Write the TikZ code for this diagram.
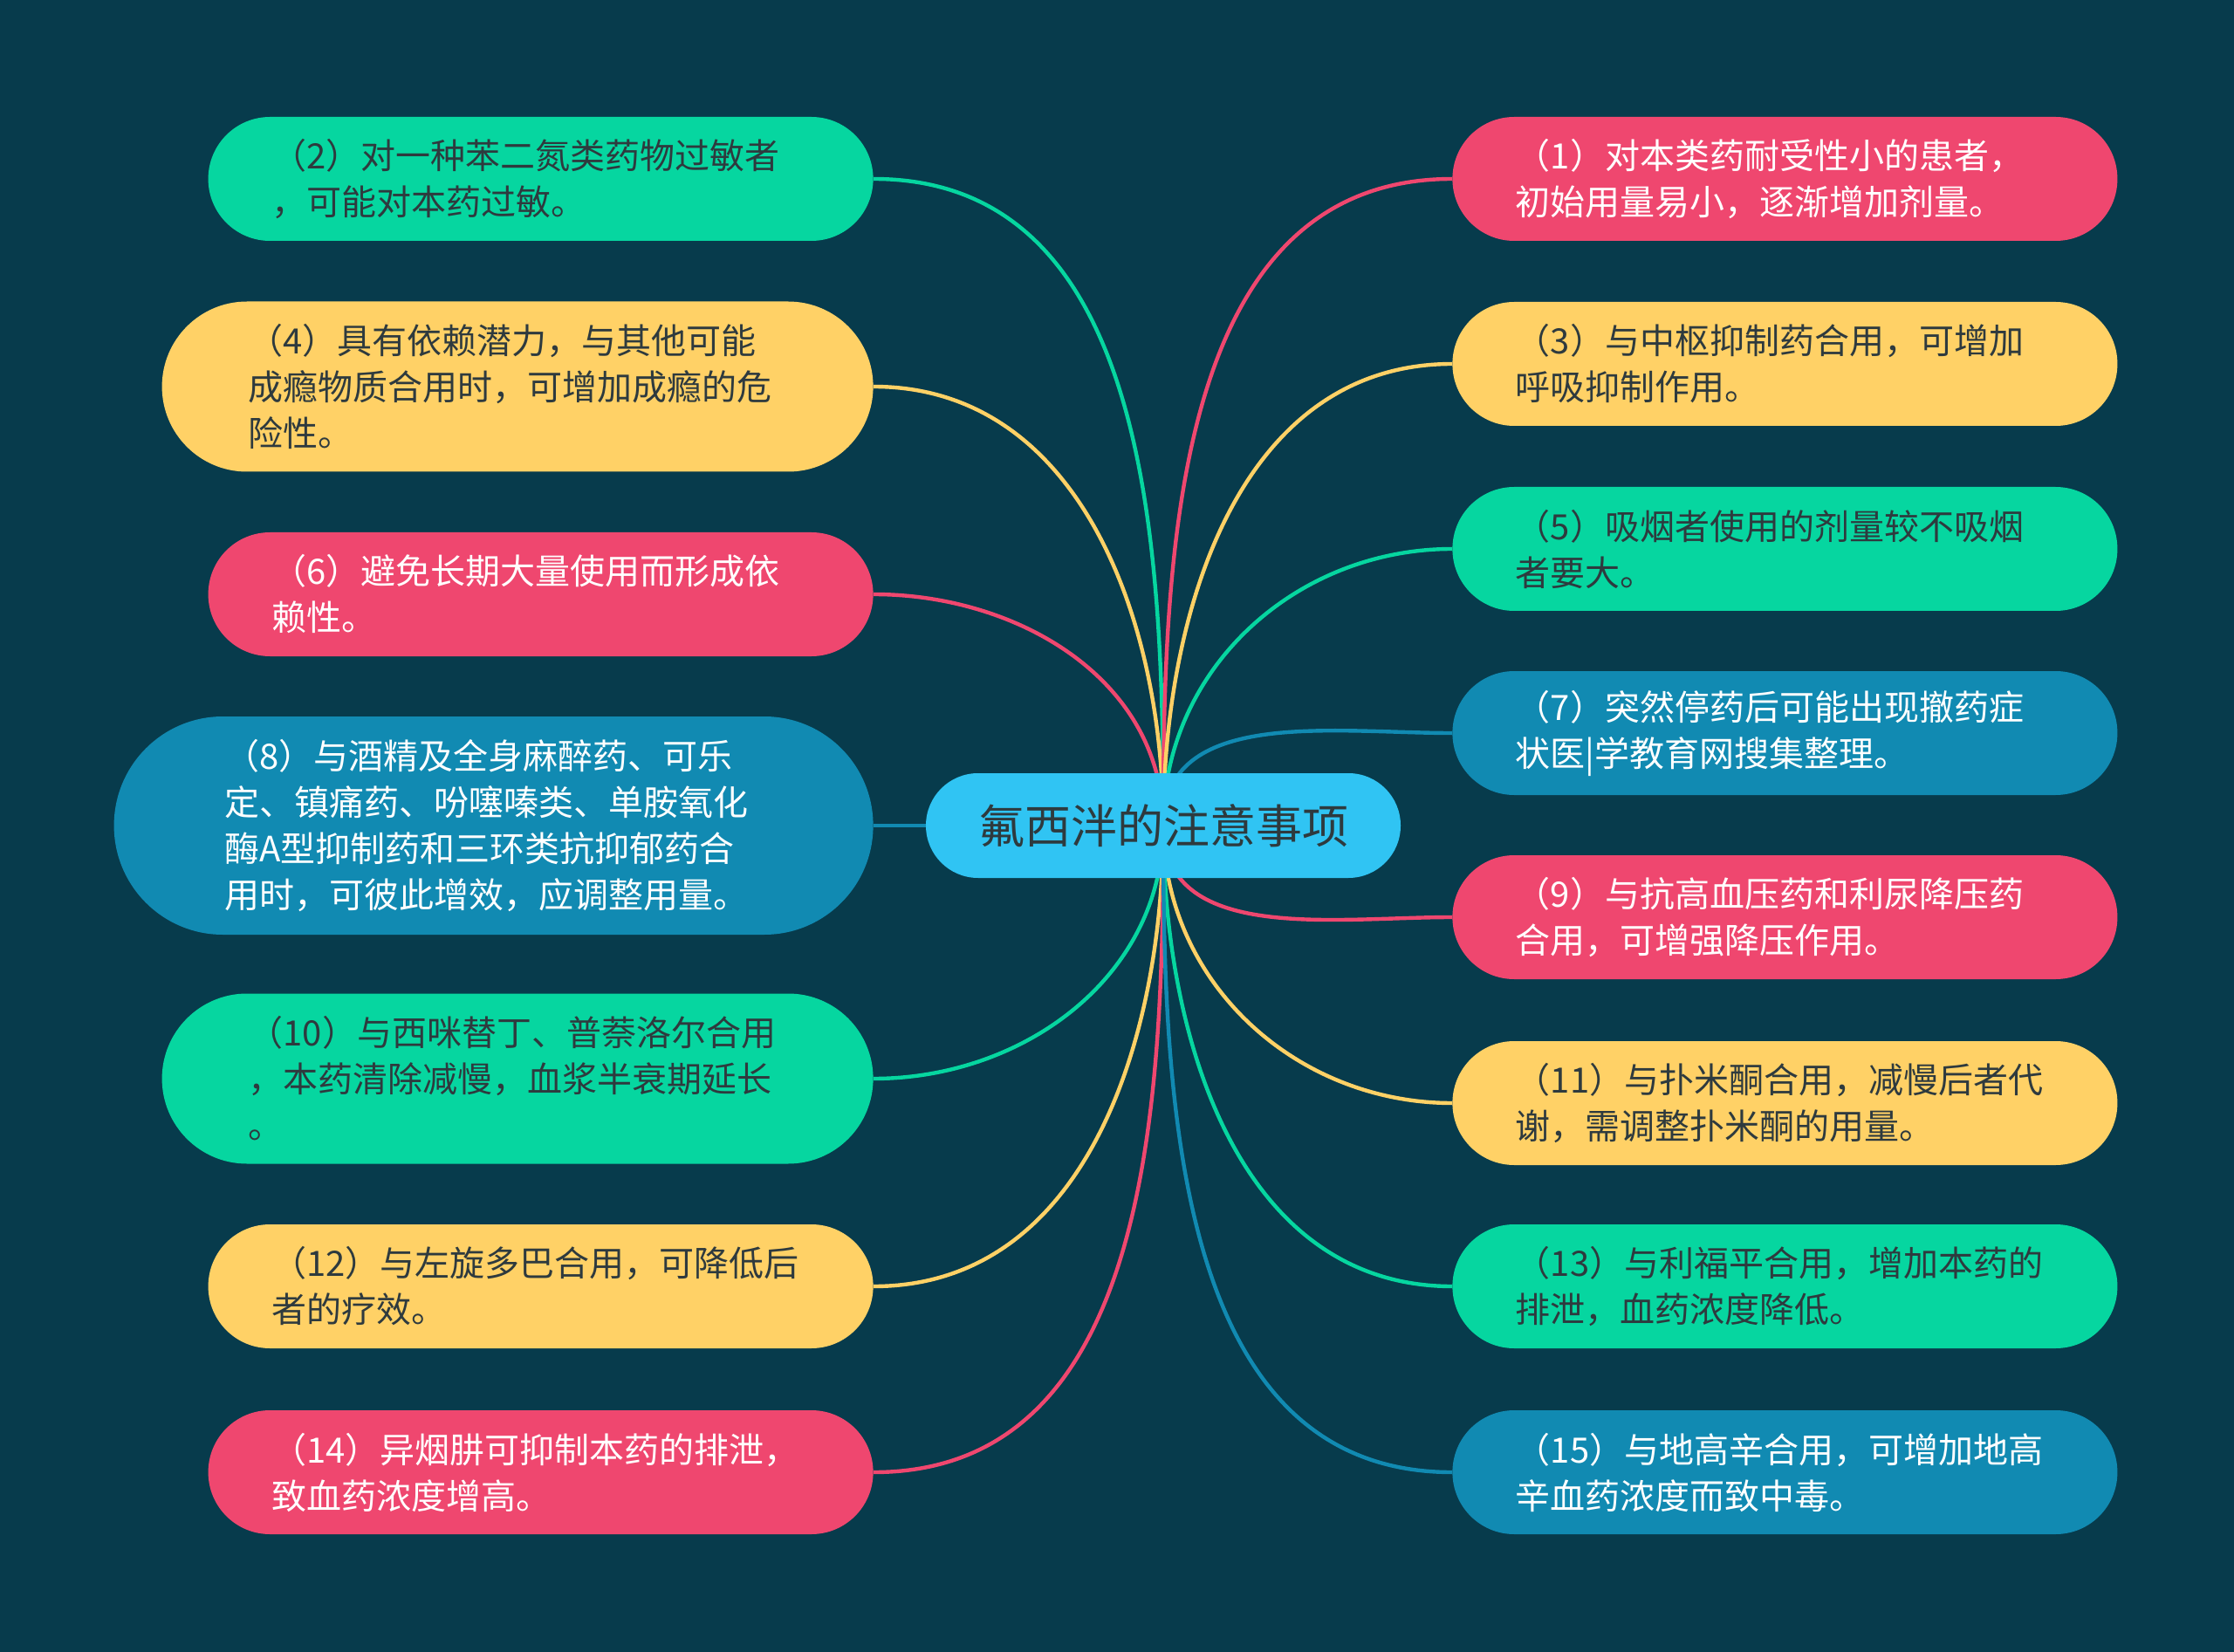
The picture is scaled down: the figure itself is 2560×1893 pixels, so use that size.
\documentclass[tikz,border=0pt]{standalone}
\usepackage{fontspec}
\setmainfont{Noto Sans CJK SC}
\pgfdeclarelayer{bg}
\pgfsetlayers{bg,main}
\definecolor{bgc}{HTML}{073B4C}
\definecolor{cpink}{HTML}{EF476F}
\definecolor{cyel}{HTML}{FFD166}
\definecolor{cgrn}{HTML}{06D6A0}
\definecolor{cblu}{HTML}{118AB2}
\definecolor{ccen}{HTML}{30C4F3}
\definecolor{dtext}{HTML}{2E3A3E}
\tikzset{
  item/.style={inner sep=0pt, text width=308.5pt, align=left,
    font=\fontsize{20pt}{26.5pt}\selectfont},
  twol/.style={item, minimum height=71pt, minimum width=381pt, rounded corners=35.4pt},
  threel/.style={item, minimum height=97.5pt, minimum width=407.5pt, rounded corners=48.7pt},
  fourl/.style={item, minimum height=125pt, minimum width=435pt, rounded corners=62.4pt},
  fg/.style={fill=cgrn, text=dtext},
  fy/.style={fill=cyel, text=dtext},
  fp/.style={fill=cpink, text=white},
  fb/.style={fill=cblu, text=white},
  lk/.style={line width=2.2pt},
  root/.style={fill=ccen, text=dtext, minimum width=272pt, minimum height=60pt,
    rounded corners=29.9pt, inner sep=0pt, font=\fontsize{26.5pt}{30pt}\selectfont}
}
\begin{document}
\begin{tikzpicture}[x=0.5pt,y=0.5pt]
\begin{pgfonlayer}{bg}
\fill[bgc] (0,0) rectangle (2560,-1893);
\end{pgfonlayer}
\useasboundingbox (0,0) rectangle (2560,-1893);

\node[root] (c) at (1333,-946) {氟西泮的注意事项};

% left
\node[twol,fg,anchor=east] (n2) at (1001,-205) {（2）对一种苯二氮类药物过敏者\\，可能对本药过敏。};
\node[threel,fy,anchor=east] (n4) at (1001,-443) {（4）具有依赖潜力，与其他可能\\成瘾物质合用时，可增加成瘾的危\\险性。};
\node[twol,fp,anchor=east] (n6) at (1001,-681) {（6）避免长期大量使用而形成依\\赖性。};
\node[fourl,fb,anchor=east] (n8) at (1001,-946) {（8）与酒精及全身麻醉药、可乐\\定、镇痛药、吩噻嗪类、单胺氧化\\酶A型抑制药和三环类抗抑郁药合\\用时，可彼此增效，应调整用量。};
\node[threel,fg,anchor=east] (n10) at (1001,-1236) {（10）与西咪替丁、普萘洛尔合用\\，本药清除减慢，血浆半衰期延长\\。};
\node[twol,fy,anchor=east] (n12) at (1001,-1474) {（12）与左旋多巴合用，可降低后\\者的疗效。};
\node[twol,fp,anchor=east] (n14) at (1001,-1687) {（14）异烟肼可抑制本药的排泄，\\致血药浓度增高。};

% right
\node[twol,fp,anchor=west] (n1) at (1664,-205) {（1）对本类药耐受性小的患者，\\初始用量易小，逐渐增加剂量。};
\node[twol,fy,anchor=west] (n3) at (1664,-417) {（3）与中枢抑制药合用，可增加\\呼吸抑制作用。};
\node[twol,fg,anchor=west] (n5) at (1664,-629) {（5）吸烟者使用的剂量较不吸烟\\者要大。};
\node[twol,fb,anchor=west] (n7) at (1664,-840) {（7）突然停药后可能出现撤药症\\状医|学教育网搜集整理。};
\node[twol,fp,anchor=west] (n9) at (1664,-1051) {（9）与抗高血压药和利尿降压药\\合用，可增强降压作用。};
\node[twol,fy,anchor=west] (n11) at (1664,-1264) {（11）与扑米酮合用，减慢后者代\\谢，需调整扑米酮的用量。};
\node[twol,fg,anchor=west] (n13) at (1664,-1474) {（13）与利福平合用，增加本药的\\排泄，血药浓度降低。};
\node[twol,fb,anchor=west] (n15) at (1664,-1687) {（15）与地高辛合用，可增加地高\\辛血药浓度而致中毒。};

\begin{pgfonlayer}{bg}
\draw[lk,cgrn] (c.center) to[out=90,in=0] (n2.east);
\draw[lk,cyel] (c.center) to[out=90,in=0] (n4.east);
\draw[lk,cpink] (c.center) to[out=90,in=0] (n6.east);
\draw[lk,cblu] (c.center) -- (n8.east);
\draw[lk,cgrn] (c.center) to[out=-90,in=0] (n10.east);
\draw[lk,cyel] (c.center) to[out=-90,in=0] (n12.east);
\draw[lk,cpink] (c.center) to[out=-90,in=0] (n14.east);
\draw[lk,cpink] (c.center) to[out=90,in=180] (n1.west);
\draw[lk,cyel] (c.center) to[out=90,in=180] (n3.west);
\draw[lk,cgrn] (c.center) to[out=90,in=180] (n5.west);
\draw[lk,cblu] (c.center) to[out=90,in=180] (n7.west);
\draw[lk,cpink] (c.center) to[out=-90,in=180] (n9.west);
\draw[lk,cyel] (c.center) to[out=-90,in=180] (n11.west);
\draw[lk,cgrn] (c.center) to[out=-90,in=180] (n13.west);
\draw[lk,cblu] (c.center) to[out=-90,in=180] (n15.west);
\end{pgfonlayer}
\end{tikzpicture}
\end{document}
